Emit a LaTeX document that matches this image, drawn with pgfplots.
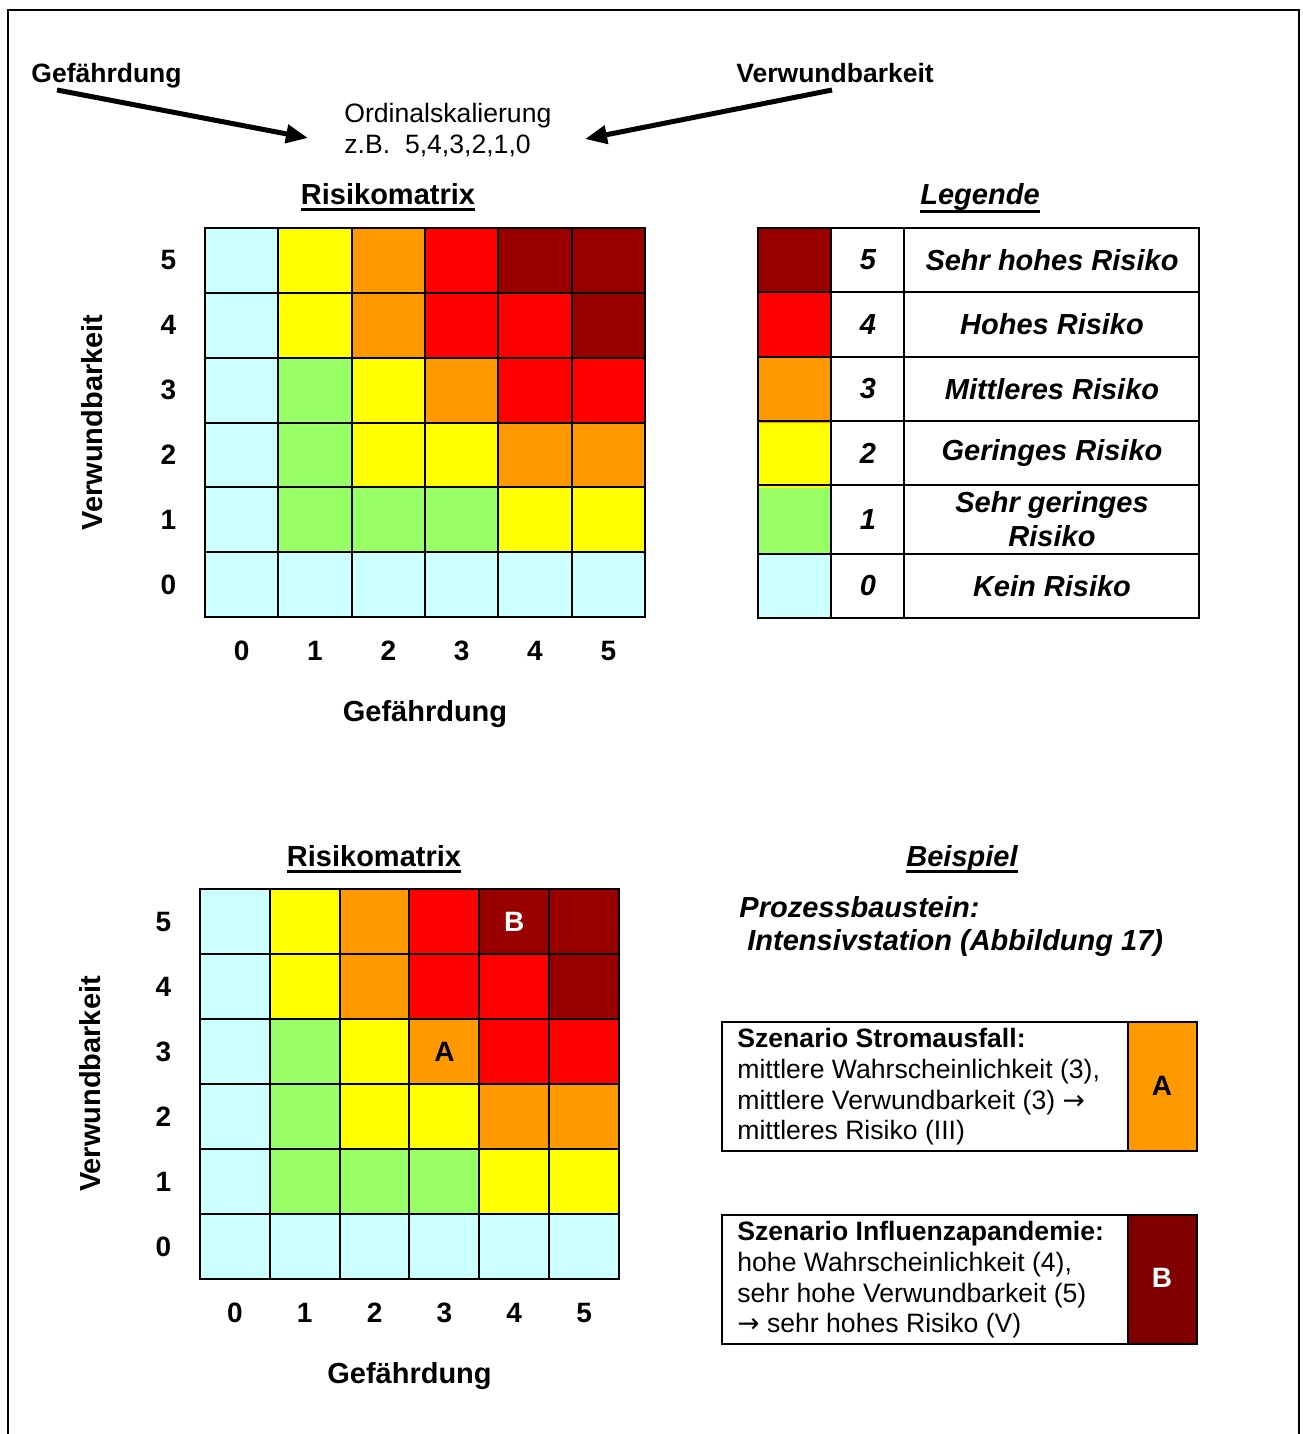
\documentclass[border=0pt]{standalone}
\usepackage{fontspec}
\setmainfont{Liberation Sans}
\newfontfamily\dejavu{DejaVu Sans}
\usepackage{pgfplots}
\usepackage{pgfplotstable}
\pgfplotsset{compat=1.18}
\usetikzlibrary{arrows.meta}

\definecolor{r0}{RGB}{204,255,255}
\definecolor{r1}{RGB}{153,255,102}
\definecolor{r2}{RGB}{255,255,0}
\definecolor{r3}{RGB}{255,153,0}
\definecolor{r4}{RGB}{255,0,0}
\definecolor{r5}{RGB}{153,0,0}
\definecolor{bdark}{RGB}{128,0,0}

\newcommand\fT{\fontsize{14.5}{17}\selectfont\bfseries}
\newcommand\fTI{\fontsize{14.5}{17}\selectfont\bfseries\itshape}
\newcommand\fH{\fontsize{13.25}{15}\selectfont\bfseries}
\newcommand\fN{\fontsize{13.3}{15.25}\selectfont}
\newcommand\fK{\fontsize{14}{16}\selectfont\bfseries}

\pgfplotstableread{
x y c
0 0 0
1 0 0
2 0 0
3 0 0
4 0 0
5 0 0
0 1 0
1 1 1
2 1 1
3 1 1
4 1 2
5 1 2
0 2 0
1 2 1
2 2 2
3 2 2
4 2 3
5 2 3
0 3 0
1 3 1
2 3 2
3 3 3
4 3 4
5 3 4
0 4 0
1 4 2
2 4 3
3 4 4
4 4 4
5 4 5
0 5 0
1 5 2
2 5 3
3 5 4
4 5 5
5 5 5
}\riskdata

\pgfplotsset{
  riskaxis/.style={
    scale only axis, anchor=south west,
    xmin=-0.5, xmax=5.5, ymin=-0.5, ymax=5.5,
    xtick={0,...,5}, ytick={0,...,5},
    minor xtick={0.5,1.5,2.5,3.5,4.5},
    minor ytick={0.5,1.5,2.5,3.5,4.5},
    grid=minor,
    minor grid style={black, line width=1pt},
    major tick length=0pt, minor tick length=0pt,
    tick style={draw=none},
    axis line style={black, line width=1.25pt},
    axis on top,
    colormap={risk}{rgb255=(204,255,255) rgb255=(153,255,102) rgb255=(255,255,0) rgb255=(255,153,0) rgb255=(255,0,0) rgb255=(153,0,0)},
    point meta min=0, point meta max=5,
    /pgf/number format/assume math mode=true,
    tick label style={font=\fK},
    xticklabel style={anchor=center, yshift=-17pt},
    yticklabel style={anchor=center, xshift=-18.25pt},
    xlabel={Gefährdung}, ylabel={Verwundbarkeit},
    label style={font=\fT},
    xlabel style={at={(axis description cs:0.5,-0.249)}, anchor=center},
  }
}

\begin{document}
\begin{tikzpicture}
\begin{scope}[x=0.5pt, y=0.5pt]
\path[use as bounding box] (0,0) rectangle (1302,-1434);

% outer frame
\draw[line width=1pt] (8,-1440) -- (8,-10) -- (1299,-10) -- (1299,-1440);

% header
\node[anchor=base west, inner sep=0pt, font=\fH] at (31,-83) {Gefährdung};
\node[anchor=base west, inner sep=0pt, font=\fH] at (736,-83) {Verwundbarkeit};
\draw[line width=2.5pt, -{Triangle[length=11pt,width=9pt]}] (57,-90) -- (308,-138);
\draw[line width=2.5pt, -{Triangle[length=11pt,width=9pt]}] (832,-90) -- (585,-139);
\node[anchor=base west, inner sep=0pt, font=\fN] at (344,-122) {Ordinalskalierung};
\node[anchor=base west, inner sep=0pt, font=\fN] at (344,-154) {z.B.~~5,4,3,2,1,0};

% titles
\node[anchor=base, inner sep=0pt, font=\fT] (t1) at (388,-204) {Risikomatrix};
\draw[line width=1.5pt] ([yshift=-2.5pt]t1.base west) -- ([yshift=-2.5pt]t1.base east);
\node[anchor=base, inner sep=0pt, font=\fTI] (t2) at (980,-204) {Legende};
\draw[line width=1.5pt] ([yshift=-3.5pt]t2.base west) -- ([yshift=-3.5pt]t2.base east);
\node[anchor=base, inner sep=0pt, font=\fT] (t3) at (374,-866) {Risikomatrix};
\draw[line width=1.5pt] ([yshift=-2.5pt]t3.base west) -- ([yshift=-2.5pt]t3.base east);
\node[anchor=base, inner sep=0pt, font=\fTI] (t4) at (962,-866) {Beispiel};
\draw[line width=1.5pt] ([yshift=-2.5pt]t4.base west) -- ([yshift=-2.5pt]t4.base east);
\end{scope}

% top matrix
\begin{axis}[riskaxis, at={(102.5pt,-308.5pt)}, width=220pt, height=194.5pt,
  ylabel style={at={(axis description cs:-0.257,0.5)}, anchor=center}]
\addplot[matrix plot*, shader=flat corner, point meta=explicit, mesh/cols=6] table[x=x, y=y, meta=c] {\riskdata};
\end{axis}

% legend swatches
\begin{axis}[at={(379pt,-309pt)}, anchor=south west, scale only axis, width=36.5pt, height=195pt,
  xmin=-0.5, xmax=0.5, ymin=0, ymax=6, hide axis, ybar stacked, bar width=36.5pt]
\addplot[fill=r0, draw=none] coordinates {(0,1)};
\addplot[fill=r1, draw=none] coordinates {(0,1)};
\addplot[fill=r2, draw=none] coordinates {(0,1)};
\addplot[fill=r3, draw=none] coordinates {(0,1)};
\addplot[fill=r4, draw=none] coordinates {(0,1)};
\addplot[fill=r5, draw=none] coordinates {(0,1)};
\end{axis}

% bottom matrix
\begin{axis}[riskaxis, at={(100pt,-639.5pt)}, width=209.5pt, height=195pt,
  ylabel style={at={(axis description cs:-0.2625,0.5)}, anchor=center}]
\addplot[matrix plot*, shader=flat corner, point meta=explicit, mesh/cols=6] table[x=x, y=y, meta=c] {\riskdata};
\node[font=\fK, text=white] at (axis cs:4,5) {B};
\node[font=\fK] at (axis cs:3,3) {A};
\end{axis}

\begin{scope}[x=0.5pt, y=0.5pt]
% legend table lines
\foreach \yy in {292,357,421,485,554} {\draw[line width=1pt] (758,-\yy) -- (1199,-\yy);}
\foreach \xx in {831,904} {\draw[line width=1pt] (\xx,-228) -- (\xx,-618);}
\draw[line width=1.25pt] (758,-228) rectangle (1199,-618);
\foreach \yy/\n/\t in {260/5/Sehr hohes Risiko, 324.5/4/Hohes Risiko, 389/3/Mittleres Risiko, 453/2/Geringes Risiko, 586/0/Kein Risiko} {
  \node[font=\fTI] at (868,-\yy) {\n};
  \node[font=\fTI] at (1052,-\yy) {\t};
}
\node[font=\fTI] at (868,-519.5) {1};
\node[font=\fTI, align=center] at (1052,-519.5) {Sehr geringes\\Risiko};

% Beispiel text
\node[anchor=base west, inner sep=0pt, font=\fTI] at (739,-917) {Prozessbaustein:};
\node[anchor=base west, inner sep=0pt, font=\fTI] at (747,-950) {Intensivstation (Abbildung 17)};

% scenario A
\fill[r3] (1128,-1022) rectangle (1197,-1151);
\draw[line width=1pt] (722,-1022) rectangle (1197,-1151);
\draw[line width=1pt] (1128,-1022) -- (1128,-1151);
\node[anchor=base west, inner sep=0pt, font=\fN\bfseries] at (737,-1047) {Szenario Stromausfall:};
\node[anchor=base west, inner sep=0pt, font=\fN] at (737,-1078) {mittlere Wahrscheinlichkeit (3),};
\node[anchor=base west, inner sep=0pt, font=\fN] at (737,-1109) {mittlere Verwundbarkeit (3) {\dejavu →}};
\node[anchor=base west, inner sep=0pt, font=\fN] at (737,-1139) {mittleres Risiko (III)};
\node[font=\fK] at (1162,-1086) {A};

% scenario B
\fill[bdark] (1128,-1215) rectangle (1197,-1344);
\draw[line width=1pt] (722,-1215) rectangle (1197,-1344);
\draw[line width=1pt] (1128,-1215) -- (1128,-1344);
\node[anchor=base west, inner sep=0pt, font=\fN\bfseries] at (737,-1240) {Szenario Influenzapandemie:};
\node[anchor=base west, inner sep=0pt, font=\fN] at (737,-1271) {hohe Wahrscheinlichkeit (4),};
\node[anchor=base west, inner sep=0pt, font=\fN] at (737,-1302) {sehr hohe Verwundbarkeit (5)};
\node[anchor=base west, inner sep=0pt, font=\fN] at (737,-1332) {{\dejavu →} sehr hohes Risiko (V)};
\node[font=\fK, text=white] at (1162,-1278) {B};
\end{scope}

\end{tikzpicture}
\end{document}
